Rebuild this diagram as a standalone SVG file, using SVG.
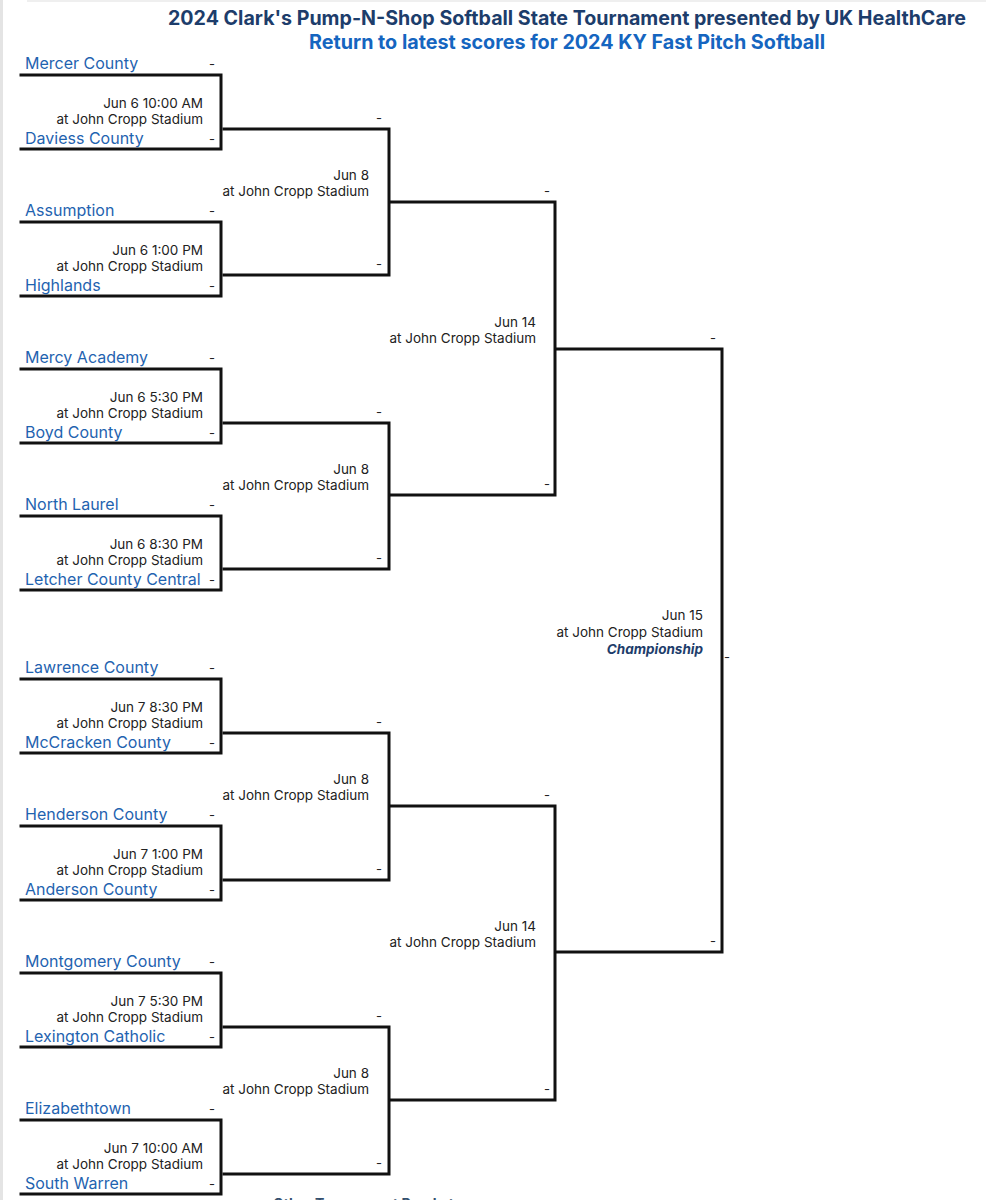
<svg xmlns="http://www.w3.org/2000/svg" width="986" height="1200" viewBox="0 0 986 1200">
<style>
.team{font-family:Inter,"Noto Sans","Liberation Sans",sans-serif;font-size:16px;fill:#1f63b0}
.sc{font-family:Inter,"Noto Sans","Liberation Sans",sans-serif;font-size:13px;fill:#222;text-anchor:middle}
.info{font-family:Inter,"Noto Sans","Liberation Sans",sans-serif;font-size:13.5px;fill:#222;text-anchor:end}
.br{fill:none;stroke:#111;stroke-width:3;stroke-linecap:square}
.title{font-family:Inter,"Noto Sans","Liberation Sans",sans-serif;font-size:19.5px;font-weight:bold;text-anchor:middle}
</style>
<rect width="986" height="1200" fill="#fff"/>
<rect x="0" y="0" width="3" height="1200" fill="#e4e4e4"/>
<rect x="27" y="0" width="959" height="2" fill="#efefef"/>
<g id="header">
<text class="title" x="567" y="25" fill="#1d3d6b" textLength="798" lengthAdjust="spacingAndGlyphs">2024 Clark's Pump-N-Shop Softball State Tournament presented by UK HealthCare</text>
<text class="title" x="567" y="49" fill="#1565c0" textLength="516" lengthAdjust="spacingAndGlyphs">Return to latest scores for 2024 KY Fast Pitch Softball</text>
</g>
<g id="connectors">
<path class="br" d="M21 75H221V149H21"/>
<path class="br" d="M21 222H221V296H21"/>
<path class="br" d="M21 369H221V443H21"/>
<path class="br" d="M21 516H221V590H21"/>
<path class="br" d="M21 679H221V753H21"/>
<path class="br" d="M21 826H221V900H21"/>
<path class="br" d="M21 973H221V1047H21"/>
<path class="br" d="M21 1120H221V1194H21"/>
<path class="br" d="M224 129H389V275H224"/>
<path class="br" d="M224 423H389V569H224"/>
<path class="br" d="M224 733H389V880H224"/>
<path class="br" d="M224 1027H389V1174H224"/>
<path class="br" d="M391 202H555V495H391"/>
<path class="br" d="M391 806H555V1100H391"/>
<path class="br" d="M557 349H722V952H557"/>
</g>
<g id="m1">
<text class="team" x="25" y="69">Mercer County</text><text class="sc" x="212" y="69">-</text>
<text class="info" x="203" y="108">Jun 6 10:00 AM</text><text class="info" x="203" y="124">at John Cropp Stadium</text>
<text class="team" x="25" y="144">Daviess County</text><text class="sc" x="212" y="144">-</text>
</g>
<g id="m2">
<text class="team" x="25" y="216">Assumption</text><text class="sc" x="212" y="216">-</text>
<text class="info" x="203" y="255">Jun 6 1:00 PM</text><text class="info" x="203" y="271">at John Cropp Stadium</text>
<text class="team" x="25" y="291">Highlands</text><text class="sc" x="212" y="291">-</text>
</g>
<g id="m3">
<text class="team" x="25" y="363">Mercy Academy</text><text class="sc" x="212" y="363">-</text>
<text class="info" x="203" y="402">Jun 6 5:30 PM</text><text class="info" x="203" y="418">at John Cropp Stadium</text>
<text class="team" x="25" y="438">Boyd County</text><text class="sc" x="212" y="438">-</text>
</g>
<g id="m4">
<text class="team" x="25" y="510">North Laurel</text><text class="sc" x="212" y="510">-</text>
<text class="info" x="203" y="549">Jun 6 8:30 PM</text><text class="info" x="203" y="565">at John Cropp Stadium</text>
<text class="team" x="25" y="585">Letcher County Central</text><text class="sc" x="212" y="585">-</text>
</g>
<g id="m5">
<text class="team" x="25" y="673">Lawrence County</text><text class="sc" x="212" y="673">-</text>
<text class="info" x="203" y="712">Jun 7 8:30 PM</text><text class="info" x="203" y="728">at John Cropp Stadium</text>
<text class="team" x="25" y="748">McCracken County</text><text class="sc" x="212" y="748">-</text>
</g>
<g id="m6">
<text class="team" x="25" y="820">Henderson County</text><text class="sc" x="212" y="820">-</text>
<text class="info" x="203" y="859">Jun 7 1:00 PM</text><text class="info" x="203" y="875">at John Cropp Stadium</text>
<text class="team" x="25" y="895">Anderson County</text><text class="sc" x="212" y="895">-</text>
</g>
<g id="m7">
<text class="team" x="25" y="967">Montgomery County</text><text class="sc" x="212" y="967">-</text>
<text class="info" x="203" y="1006">Jun 7 5:30 PM</text><text class="info" x="203" y="1022">at John Cropp Stadium</text>
<text class="team" x="25" y="1042">Lexington Catholic</text><text class="sc" x="212" y="1042">-</text>
</g>
<g id="m8">
<text class="team" x="25" y="1114">Elizabethtown</text><text class="sc" x="212" y="1114">-</text>
<text class="info" x="203" y="1153">Jun 7 10:00 AM</text><text class="info" x="203" y="1169">at John Cropp Stadium</text>
<text class="team" x="25" y="1189">South Warren</text><text class="sc" x="212" y="1189">-</text>
</g>
<g id="qf1">
<text class="sc" x="379" y="123">-</text>
<text class="info" x="369" y="180">Jun 8</text><text class="info" x="369" y="196">at John Cropp Stadium</text>
<text class="sc" x="379" y="269">-</text>
</g>
<g id="qf2">
<text class="sc" x="379" y="417">-</text>
<text class="info" x="369" y="474">Jun 8</text><text class="info" x="369" y="490">at John Cropp Stadium</text>
<text class="sc" x="379" y="563">-</text>
</g>
<g id="qf3">
<text class="sc" x="379" y="727">-</text>
<text class="info" x="369" y="784">Jun 8</text><text class="info" x="369" y="800">at John Cropp Stadium</text>
<text class="sc" x="379" y="874">-</text>
</g>
<g id="qf4">
<text class="sc" x="379" y="1021">-</text>
<text class="info" x="369" y="1078">Jun 8</text><text class="info" x="369" y="1094">at John Cropp Stadium</text>
<text class="sc" x="379" y="1168">-</text>
</g>
<g id="sf1">
<text class="sc" x="547" y="196">-</text>
<text class="info" x="536" y="327">Jun 14</text><text class="info" x="536" y="343">at John Cropp Stadium</text>
<text class="sc" x="547" y="489">-</text>
</g>
<g id="sf2">
<text class="sc" x="547" y="800">-</text>
<text class="info" x="536" y="931">Jun 14</text><text class="info" x="536" y="947">at John Cropp Stadium</text>
<text class="sc" x="547" y="1094">-</text>
</g>
<g id="final">
<text class="sc" x="713" y="343">-</text>
<text class="info" x="703" y="620">Jun 15</text><text class="info" x="703" y="637">at John Cropp Stadium</text>
<text class="info" x="703" y="654" style="font-weight:bold;font-style:italic;fill:#1d3d6b">Championship</text>
<text class="sc" x="727" y="662">-</text>
<text class="sc" x="713" y="946">-</text>
</g>
<g id="footer">
<text x="273" y="1209" style="font-family:Inter,'Noto Sans','Liberation Sans',sans-serif;font-size:14px;font-weight:bold;fill:#34506e">Other Tournament Brackets</text>
</g>
</svg>
